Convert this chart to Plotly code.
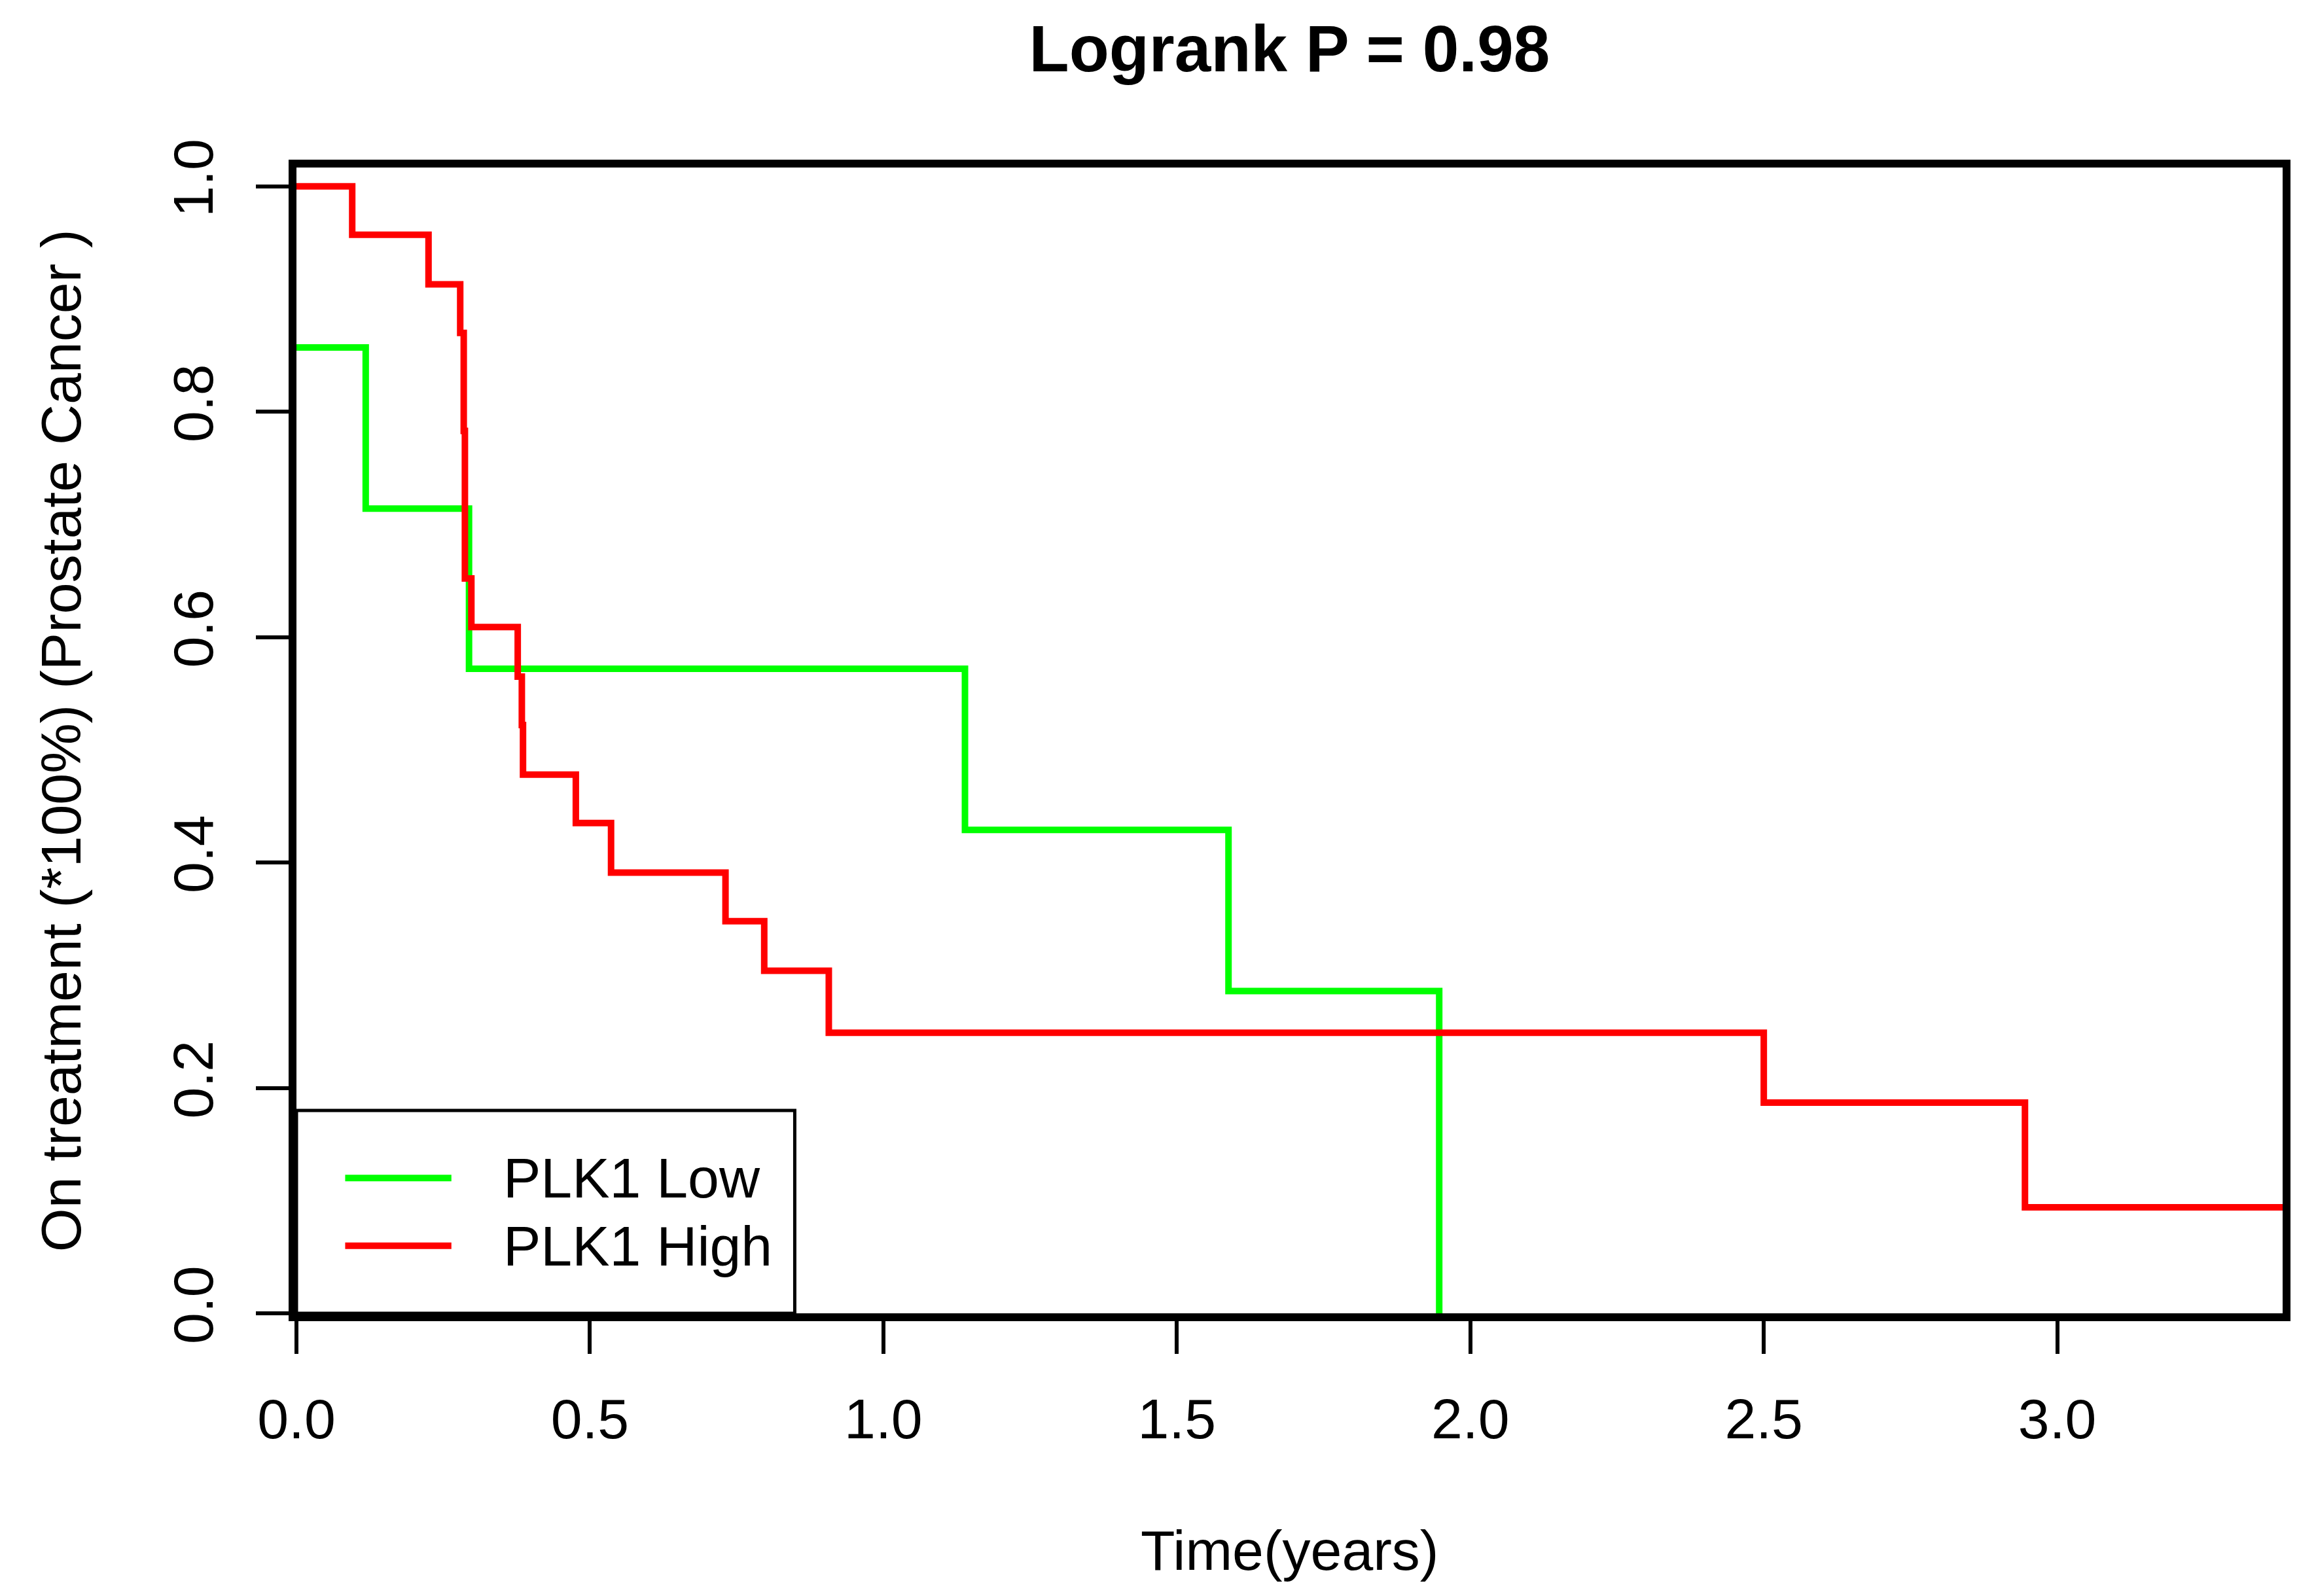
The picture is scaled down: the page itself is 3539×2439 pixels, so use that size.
import plotly.graph_objects as go

# Kaplan-Meier steps
group_names = ["PLK1 Low", "PLK1 High"]
group_colors = ["#00FF00", "#FF0000"]

low_time = [0, 0.118, 0.294, 1.139, 1.588, 1.947]
low_surv = [0.857, 0.714, 0.572, 0.429, 0.286, 0.0]

high_time = [0, 0.095, 0.225, 0.279, 0.285, 0.287, 0.298, 0.377, 0.384, 0.386,
             0.476, 0.536, 0.731, 0.797, 0.907, 2.50, 2.945, 3.385]
high_surv = [1.0, 0.957, 0.913, 0.870, 0.783, 0.652, 0.609, 0.565, 0.522, 0.478,
             0.435, 0.391, 0.348, 0.304, 0.249, 0.187, 0.094, 0.094]

x_ticks = [0, 0.5, 1.0, 1.5, 2.0, 2.5, 3.0]
y_ticks = [0, 0.2, 0.4, 0.6, 0.8, 1.0]

FONT = "Liberation Sans, Arial, Helvetica, sans-serif"

fig = go.Figure()
for name, color, t, s in [(group_names[0], group_colors[0], low_time, low_surv),
                          (group_names[1], group_colors[1], high_time, high_surv)]:
    fig.add_trace(go.Scatter(x=t, y=s, mode="lines", name=name,
                             line=dict(color=color, width=10, shape="hv"),
                             showlegend=False))

# legend box drawn by hand (R-style legend sitting in the lower-left corner)
fig.add_shape(type="rect", xref="x", yref="y", x0=0, x1=0.849, y0=0, y1=0.18,
              line=dict(color="black", width=5), fillcolor="white", layer="below")
for i, (name, color) in enumerate(zip(group_names, group_colors)):
    yy = 0.12 - i * 0.06
    fig.add_shape(type="line", xref="x", yref="y", x0=0.083, x1=0.264, y0=yy, y1=yy,
                  line=dict(color=color, width=10))
    fig.add_annotation(x=0.35, y=yy, xref="x", yref="y", text=name, showarrow=False,
                       xanchor="left", yanchor="middle",
                       font=dict(family=FONT, size=86, color="black"))

# axis titles
fig.add_annotation(x=0.5, y=-0.2066, xref="paper", yref="paper", text="Time(years)",
                   showarrow=False, xanchor="center", yanchor="middle",
                   font=dict(family=FONT, size=86, color="black"))
fig.add_annotation(x=-0.1187, y=0.5, xref="paper", yref="paper",
                   text="On treatment (*100%) (Prostate Cancer )", textangle=-90,
                   showarrow=False, xanchor="center", yanchor="middle",
                   font=dict(family=FONT, size=86, color="black"))

# the page body keeps an 8px margin, so the figure is 8px smaller to fit the window
fig.update_layout(
    width=3531, height=2431,
    margin=dict(l=445, r=51, t=248, b=432),
    paper_bgcolor="white", plot_bgcolor="white",
    title=dict(text="<b>Logrank P = 0.98</b>", x=0.5, xref="paper",
               y=1 - 66 / 2431, yref="container", xanchor="center", yanchor="middle",
               font=dict(family=FONT, size=100, color="black")),
    font=dict(family=FONT, size=86, color="black"),
)
fig.update_xaxes(range=[0, 3.384], tickvals=x_ticks, ticktext=[f"{v:.1f}" for v in x_ticks],
                 ticks="outside", ticklen=50, tickwidth=6, tickcolor="black",
                 showline=True, linecolor="black", linewidth=12, mirror=True,
                 showgrid=False, zeroline=False, ticklabelstandoff=26,
                 tickfont=dict(family=FONT, size=86, color="black"))
fig.update_yaxes(range=[0, 1.0167], tickvals=y_ticks, ticktext=[f"{v:.1f}" for v in y_ticks],
                 ticks="outside", ticklen=50, tickwidth=6, tickcolor="black",
                 showline=True, linecolor="black", linewidth=12, mirror=True,
                 showgrid=False, zeroline=False, tickangle=-90, ticklabelstandoff=32,
                 tickfont=dict(family=FONT, size=86, color="black"))

fig.write_html("out.html")
